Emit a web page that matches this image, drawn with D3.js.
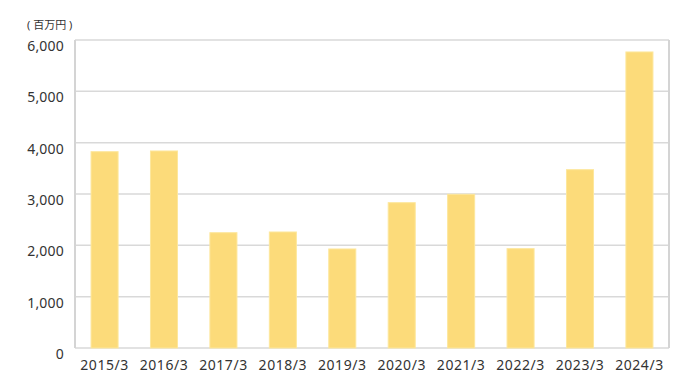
<!DOCTYPE html>
<html>
<head>
<meta charset="utf-8">
<script src="https://cdn.jsdelivr.net/npm/d3@7"></script>
<style>
  body { margin: 0; background: #fff; }
  text { font-family: "Noto Sans", "Noto Sans CJK JP", sans-serif; fill: #333; }
</style>
</head>
<body>
<div id="chart"></div>
<script>
// 決算期ごとの値（百万円）
const years = ['2015/3', '2016/3', '2017/3', '2018/3', '2019/3', '2020/3', '2021/3', '2022/3', '2023/3', '2024/3'];
const values = [3824, 3838, 2246, 2260, 1929, 2831, 2994, 1935, 3474, 5767];
const yTicks = [0, 1000, 2000, 3000, 4000, 5000, 6000];

const width = 690;
const height = 391;
const margin = { top: 40, right: 21, bottom: 43, left: 75 };

const svg = d3.select('#chart')
  .append('svg')
  .attr('width', width)
  .attr('height', height);

const x = d3.scaleBand()
  .domain(years)
  .range([margin.left, width - margin.right])
  .paddingInner(0.545)
  .paddingOuter(0.27);

const y = d3.scaleLinear()
  .domain([0, 6000])
  .range([height - margin.bottom, margin.top]);

// 横グリッド
svg.append('g')
  .selectAll('line')
  .data(yTicks)
  .enter()
  .append('line')
  .attr('x1', margin.left)
  .attr('x2', width - margin.right)
  .attr('y1', d => y(d))
  .attr('y2', d => y(d))
  .attr('stroke', '#d9d9d9')
  .attr('stroke-width', 1.5);

// 棒
svg.append('g')
  .selectAll('rect')
  .data(values)
  .enter()
  .append('rect')
  .attr('x', (d, i) => x(years[i]))
  .attr('y', d => y(d))
  .attr('width', x.bandwidth())
  .attr('height', d => y(0) - y(d))
  .attr('fill', '#fcdb7a')
  .attr('stroke', '#fde79c')
  .attr('stroke-width', 1);

// 枠
svg.append('g')
  .selectAll('line')
  .data([margin.left, width - margin.right])
  .enter()
  .append('line')
  .attr('x1', d => d)
  .attr('x2', d => d)
  .attr('y1', margin.top)
  .attr('y2', height - margin.bottom)
  .attr('stroke', '#d4d4d4')
  .attr('stroke-width', 2);

// Y軸ラベル
const yAxis = svg.append('g')
  .attr('transform', `translate(${margin.left - 11},6)`)
  .call(d3.axisLeft(y).tickValues(yTicks).tickFormat(d3.format(',')).tickSize(0).tickPadding(0));
yAxis.select('.domain').remove();
yAxis.selectAll('text')
  .style('font-size', '14px')
  .style('letter-spacing', '0.2px')
  .style('fill', '#333');

// X軸ラベル
const xAxis = svg.append('g')
  .attr('transform', `translate(0,${height - margin.bottom})`)
  .call(d3.axisBottom(x).tickSize(0).tickPadding(12));
xAxis.select('.domain').remove();
xAxis.selectAll('text')
  .style('font-size', '14px')
  .style('letter-spacing', '0.55px')
  .style('fill', '#333');

// 単位
svg.append('text')
  .attr('x', 27)
  .attr('y', 29)
  .style('font-size', '11px')
  .text('( 百万円 )');
</script>
</body>
</html>
